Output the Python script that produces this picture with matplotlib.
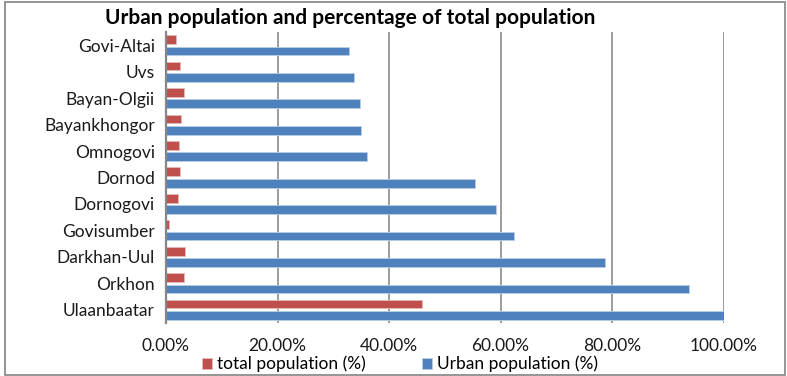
import matplotlib
matplotlib.use("Agg")
import matplotlib.pyplot as plt
import numpy as np
from matplotlib.patches import Rectangle
from matplotlib.ticker import FuncFormatter, MultipleLocator

plt.rcParams['font.family'] = ['Lato', 'DejaVu Sans']

# bottom-to-top order
categories = ["Ulaanbaatar", "Orkhon", "Darkhan-Uul", "Govisumber", "Dornogovi",
              "Dornod", "Omnogovi", "Bayankhongor", "Bayan-Olgii", "Uvs", "Govi-Altai"]
urban_pct = [100.0, 93.8, 78.8, 62.5, 59.2, 55.4, 36.0, 34.9, 34.8, 33.8, 32.9]
total_pct = [45.9, 3.3, 3.4, 0.5, 2.15, 2.5, 2.3, 2.7, 3.2, 2.6, 1.85]

W, H = 787, 376
fig = plt.figure(figsize=(W / 100, H / 100), dpi=100)
ax = fig.add_axes([166 / W, 1 - 323 / H, (723.5 - 166) / W, (323 - 32) / H])

y = np.arange(len(categories))
h = 0.33
off = 0.215
ax.barh(y - off, np.array(urban_pct) / 100, height=h, color='#4F81BD',
        edgecolor='#B9CDE5', linewidth=0.6, label='Urban population (%)', zorder=3)
ax.barh(y + off, np.array(total_pct) / 100, height=h, color='#C0504D',
        edgecolor='#E6B9B8', linewidth=0.6, label='total population (%)', zorder=3)

ax.set_xlim(0, 1.0)
ax.set_ylim(-0.5, len(categories) - 0.5)
ax.set_yticks(y)
ax.set_yticklabels(categories, fontsize=12.5, color='#1a1a1a')
ax.xaxis.set_major_locator(MultipleLocator(0.2))
ax.xaxis.set_major_formatter(FuncFormatter(lambda v, p: f"{v*100:.2f}%"))
ax.tick_params(axis='x', labelsize=12.5, length=0, pad=11, colors='#1a1a1a')
ax.tick_params(axis='y', length=0, pad=8)
ax.grid(axis='x', color='#8c8c8c', linewidth=1.2, zorder=0)
for s in ['top', 'right', 'bottom']:
    ax.spines[s].set_visible(False)
ax.spines['left'].set_color('#868686')
ax.spines['left'].set_linewidth(1.6)
ax.spines['left'].set_zorder(4)

fig.text(350 / W, 1 - 18 / H, "Urban population and percentage of total population",
         ha='center', va='center', fontsize=15, fontweight='bold', color='black')

handles, labels = ax.get_legend_handles_labels()
leg = fig.legend(handles[::-1], labels[::-1], loc='center', bbox_to_anchor=(400 / W, 1 - 364 / H),
                 ncol=2, frameon=False, fontsize=12.5, handlelength=0.6, handleheight=0.6,
                 handletextpad=0.3, columnspacing=3.2, borderaxespad=0, borderpad=0)

fig.patches.append(Rectangle((5 / W, 1 / H), (785 - 5) / W, (374.5 - 1.5) / H,
                             transform=fig.transFigure, fill=False,
                             edgecolor='#8c8c8c', linewidth=1.3))

fig.savefig("out.png", dpi=100)
